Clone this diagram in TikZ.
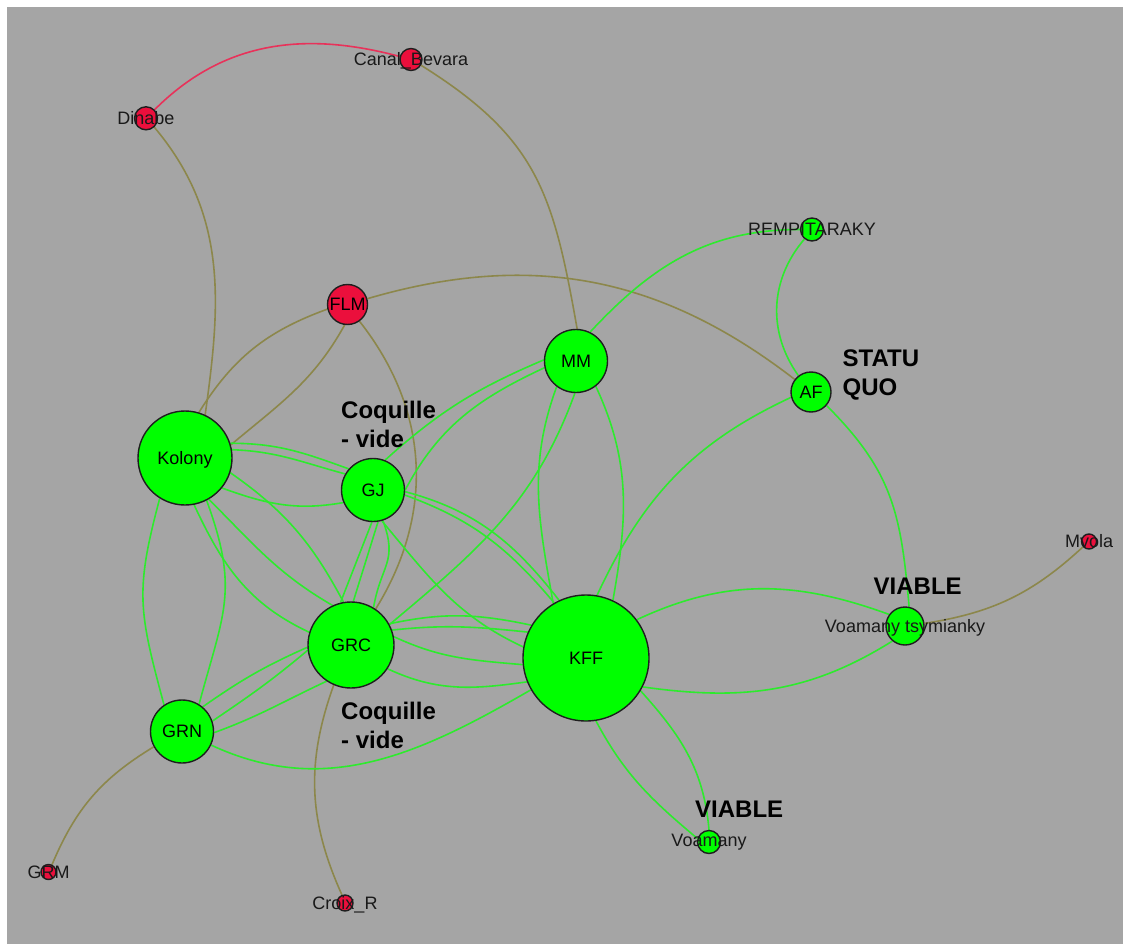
\documentclass[tikz,border=0pt]{standalone}
\usepackage{fontspec}
\setmainfont{Liberation Sans}
\pgfdeclarelayer{bg}
\pgfdeclarelayer{edges}
\pgfsetlayers{bg,edges,main}
\definecolor{bggrey}{RGB}{165,165,165}
\definecolor{nodegreen}{RGB}{0,255,0}
\definecolor{nodered}{RGB}{235,15,60}
\definecolor{nodeborder}{RGB}{30,30,30}
\definecolor{edgegreen}{RGB}{45,235,45}
\definecolor{edgeolive}{RGB}{140,135,75}
\definecolor{edgered}{RGB}{232,50,90}
\definecolor{labelc}{RGB}{25,25,25}
\begin{document}
\begin{tikzpicture}[x=1pt,y=1pt,
  gn/.style={circle,draw=nodeborder,line width=1.4pt,fill=nodegreen,inner sep=0pt,
    font=\fontsize{18}{18}\selectfont,text=black,text height=12.9pt,text depth=0pt},
  rn/.style={gn,fill=nodered},
  lbl/.style={inner sep=0pt,font=\fontsize{18}{18}\selectfont,text=labelc,
    text height=12.9pt,text depth=0pt},
  big/.style={inner sep=0pt,font=\bfseries\fontsize{24}{24}\selectfont,text=black,anchor=base west},
  ge/.style={draw=edgegreen,line width=1.6pt},
  oe/.style={draw=edgeolive,line width=1.6pt},
  re/.style={draw=edgered,line width=1.6pt}]
\useasboundingbox (0,0) rectangle (1123,-944);
\begin{pgfonlayer}{bg}
  \fill[white] (0,0) rectangle (1123,-944);
  \fill[bggrey] (7,-7) rectangle (1123,-944);
\end{pgfonlayer}

% nodes
\node[rn,minimum size=22pt] (canal) at (411,-59.5) {};
\node[lbl] (canal-t) at (canal.center) {Canal\_Bevara};
\node[rn,minimum size=23pt] (dinabe) at (146,-118.3) {};
\node[lbl] (dinabe-t) at (dinabe.center) {Dinabe};
\node[rn,minimum size=40pt] (flm) at (347.5,-304.5) {FLM};
\node[gn,minimum size=63pt] (mm) at (576,-361) {MM};
\node[gn,minimum size=23pt] (rempi) at (812,-229.5) {};
\node[lbl] (rempi-t) at (rempi.center) {REMPITARAKY};
\node[gn,minimum size=40pt] (af) at (811,-392) {AF};
\node[gn,minimum size=94pt] (kolony) at (185,-458) {Kolony};
\node[gn,minimum size=63pt] (gj) at (373,-490) {GJ};
\node[gn,minimum size=86pt] (grc) at (351,-645) {GRC};
\node[gn,minimum size=126pt] (kff) at (586,-658) {KFF};
\node[gn,minimum size=63pt] (grn) at (182,-731.5) {GRN};
\node[gn,minimum size=38pt] (vt) at (905,-626) {};
\node[lbl] (vt-t) at (vt.center) {Voamany tsymianky};
\node[rn,minimum size=15pt] (mvola) at (1089,-541.5) {};
\node[lbl] (mvola-t) at (mvola.center) {Mvola};
\node[gn,minimum size=23pt] (voamany) at (709,-842) {};
\node[lbl] (voamany-t) at (709,-840.5) {Voamany};
\node[rn,minimum size=15pt] (grm) at (48.5,-872) {};
\node[lbl] (grm-t) at (grm.center) {GRM};
\node[rn,minimum size=16pt] (croix) at (345,-903) {};
\node[lbl] (croix-t) at (croix.center) {Croix\_R};

% annotations
\node[big] (coq1a) at (341,-418) {Coquille};
\node[big] (coq1b) at (341,-447.7) {- vide};
\node[big] (coq2a) at (341,-719) {Coquille};
\node[big] (coq2b) at (341,-748) {- vide};
\node[big] (statu) at (842.5,-366.7) {STATU};
\node[big] (quo) at (842.5,-395) {QUO};
\node[big] (via1) at (873.5,-594) {VIABLE};
\node[big] (via2) at (695,-817.7) {VIABLE};

\begin{pgfonlayer}{edges}
% red
\draw[re] (dinabe) to[out=45,in=165] (canal);
% olive
\draw[oe] (canal.-30) to[out=-32,in=100,looseness=1.15] (mm.88);
\draw[oe] (dinabe.-47) to[out=-50,in=82] (kolony.65);
\draw[oe] (flm.193) to[out=200,in=58] (kolony.73);
\draw[oe] (flm.262) to[out=241,in=40] (kolony.16);
\draw[oe] (flm) to[bend left=27] (af);
\draw[oe] (flm) to[bend left=35] (grc);
\draw[oe] (grn) to[bend right=18] (grm);
\draw[oe] (grc) to[bend right=22] (croix);
\draw[oe] (vt) to[bend right=17] (mvola);
% green
\draw[ge] (mm.64) to[out=47,in=180] (rempi);
\draw[ge] (rempi) to[bend right=38] (af);
\draw[ge] (af.195) to[out=205,in=65] (kff.80);
\draw[ge] (af.-41) to[out=-45,in=95,looseness=1.1] (vt.78);
\draw[ge] (mm.233) to[out=250,in=100] (kff.121);
\draw[ge] (mm.-52) to[out=-65,in=80] (kff.65);
\draw[ge] (mm.268) to[out=250,in=40] (grc.28);
\draw[ge] (mm.178) to[out=203,in=42] (gj.68);
\draw[ge] (mm.192) to[out=205,in=62] (gj.0);
\draw[ge] (kolony.18) to[out=0,in=160] (gj.139);
\draw[ge] (kolony.10) to[out=-2,in=165] (gj.150);
\draw[ge] (kolony.-39) to[out=-20,in=190] (gj.203);
\draw[ge] (kolony.-18) to[out=-35,in=118] (grc.100);
\draw[ge] (kolony.-60) to[out=-45,in=150] (grc.115);
\draw[ge] (kolony.-79) to[out=-65,in=155] (grc.163);
\draw[ge] (kolony.238) to[out=255,in=105,looseness=1.2] (grn.124);
\draw[ge] (kolony.-63) to[out=-70,in=75,looseness=1.2] (grn.58);
\draw[ge] (grn.50) to[out=35,in=204] (grc.183);
\draw[ge] (grn.19) to[out=34,in=220] (grc.187);
\draw[ge] (grn.-2) to[out=20,in=205] (grc.236);
\draw[ge] (grn) to[out=-25,in=-150] (kff);
\draw[ge] (grc.29) to[out=12,in=168] (kff.149);
\draw[ge] (grc.20) to[out=6,in=174] (kff.156);
\draw[ge] (grc.11) to[out=-25,in=175] (kff.186);
\draw[ge] (grc.-33) to[out=-25,in=188] (kff.202);
\draw[ge] (gj.268) -- (grc.104);
\draw[ge] (gj.279) -- (grc.87);
\draw[ge] (gj.288) to[out=-70,in=80,looseness=1.3] (grc.59);
\draw[ge] (gj.-3) to[out=-15,in=128] (kff.115);
\draw[ge] (gj.-9) to[out=-20,in=130] (kff.120);
\draw[ge] (gj.-74) to[out=-50,in=155] (kff.170);
\draw[ge] (kff.37) to[out=25,in=160] (vt.144);
\draw[ge] (kff.-27) to[out=-8,in=212] (vt.230);
\draw[ge] (kff.-81) to[out=-62,in=140] (voamany.163);
\draw[ge] (kff.-31) to[out=-48,in=95] (voamany.90);
\end{pgfonlayer}
\end{tikzpicture}
\end{document}
